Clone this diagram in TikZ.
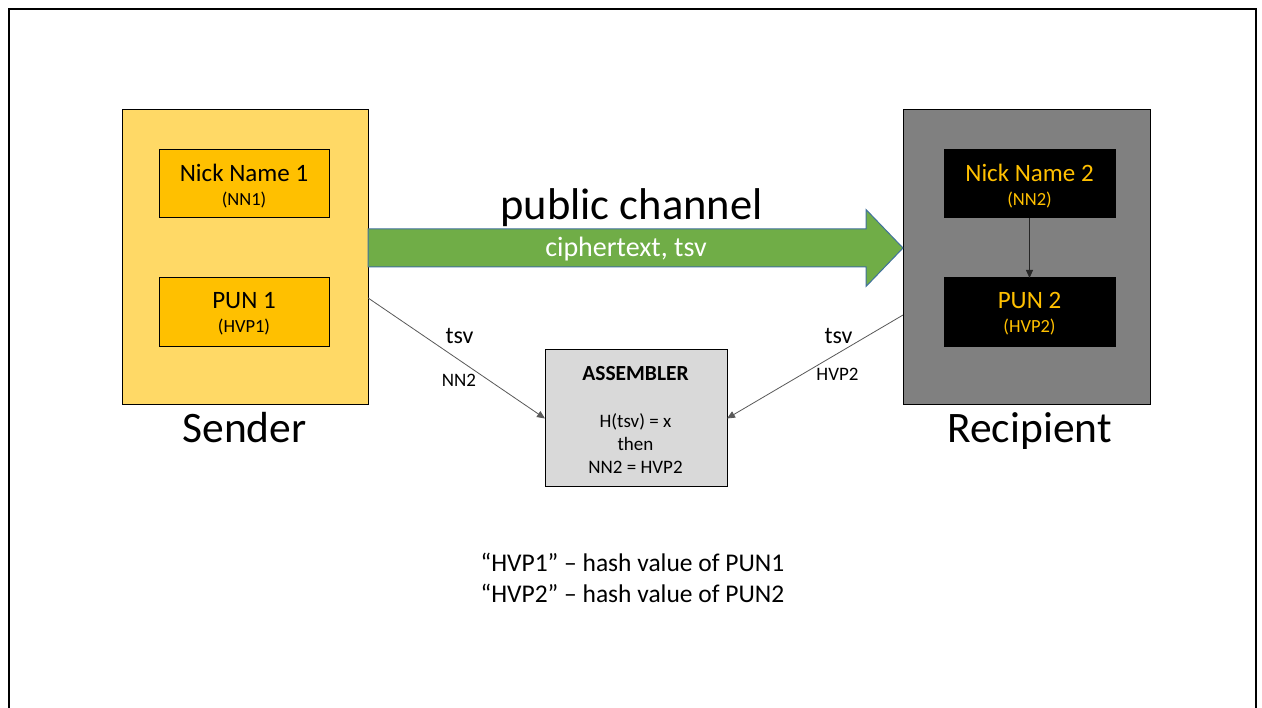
\documentclass[tikz,border=0pt]{standalone}
\usepackage{fontspec}
\setmainfont{Carlito}
\usetikzlibrary{arrows.meta,calc}
\definecolor{senderfill}{HTML}{FFD966}
\definecolor{amber}{HTML}{FFC000}
\definecolor{recipfill}{HTML}{808080}
\definecolor{chanfill}{HTML}{70AD47}
\definecolor{chanedge}{HTML}{41719C}
\definecolor{asmfill}{HTML}{D9D9D9}
\definecolor{wire}{HTML}{595959}
\newcommand\fsz[1]{\fontsize{#1}{#1}\selectfont}
\begin{document}
\begin{tikzpicture}[x=1pt,y=-1pt,
  party/.style={rectangle,draw=black,line width=1pt,inner sep=0pt,outer sep=0pt},
  txt/.style={anchor=base,inner sep=0pt,outer sep=0pt},
  wirearrow/.style={draw=wire,line width=0.8pt,-{Triangle[length=8pt,width=7pt]}},
  chan/.style={fill=chanfill,draw=chanedge,line width=1pt,line join=miter}]
% page and frame
\useasboundingbox (0,0) rectangle (1262,708);
\fill[white] (0,0) rectangle (1262,708);
\draw[line width=2pt,black] (9,708) -- (9,9) -- (1256,9) -- (1256,708);

% sender side
\node[party,fill=senderfill,minimum width=246pt,minimum height=295pt] (sender) at (245,257.5) {};
\node[party,fill=amber,minimum width=170pt,minimum height=68pt] (nn1) at (244,184) {};
\node[party,fill=amber,minimum width=170pt,minimum height=69pt] (pun1) at (244,312.5) {};
\node[txt] at (244,182) {\fsz{25}Nick Name 1};
\node[txt] at (244,206) {\fsz{18.5}(NN1)};
\node[txt] at (244,309) {\fsz{25}PUN 1};
\node[txt] at (244,333) {\fsz{18.5}(HVP1)};
\node[txt] at (244.5,443) {\fsz{43.5}Sender};

% recipient side
\node[party,fill=recipfill,minimum width=247pt,minimum height=295pt] (recip) at (1026.5,257.5) {};
\node[party,fill=black,minimum width=171pt,minimum height=68pt] (nn2) at (1029.5,184) {};
\node[party,fill=black,minimum width=171pt,minimum height=69pt] (pun2) at (1029.5,312.5) {};
\node[txt,text=amber] at (1029.5,182) {\fsz{25}Nick Name 2};
\node[txt,text=amber] at (1029.5,206) {\fsz{18.5}(NN2)};
\node[txt,text=amber] at (1029.5,309) {\fsz{25}PUN 2};
\node[txt,text=amber] at (1029.5,333) {\fsz{18.5}(HVP2)};
\node[txt] at (1029.5,443) {\fsz{43.5}Recipient};
\draw[wirearrow,draw=black!85] (nn2) -- (pun2);

% public channel arrow
\coordinate (tail) at ([yshift=9.5pt]sender.east);
\coordinate (tip) at (recip.west |- tail);
\draw[chan] ([yshift=19pt]tail) -- ([xshift=-37pt,yshift=19pt]tip)
  -- ([xshift=-37pt,yshift=38.5pt]tip) -- (tip)
  -- ([xshift=-37pt,yshift=-38.5pt]tip) -- ([xshift=-37pt,yshift=-19pt]tip)
  -- ([yshift=-19pt]tail) -- cycle;
\node[txt] at (631.5,220) {\fsz{44.5}public channel};
\node[txt,text=white] at (626,257) {\fsz{28}ciphertext, tsv};

% assembler
\node[party,fill=asmfill,minimum width=182pt,minimum height=137pt] (asm) at (636,418.5) {};
\node[txt] at (635.5,381) {\fsz{21.5}\bfseries ASSEMBLER};
\node[txt] at (635.5,428) {\fsz{19}H(tsv) = x};
\node[txt] at (635.5,451) {\fsz{19}then};
\node[txt] at (635.5,474) {\fsz{19}NN2 = HVP2};

% links to the assembler
\draw[wirearrow] ($(sender.north east)!0.637!(sender.south east)$) -- (asm.west);
\draw[wirearrow] ($(recip.north west)!0.695!(recip.south west)$) -- (asm.east);
\node[txt] at (459.5,344) {\fsz{24}tsv};
\node[txt] at (459,387) {\fsz{19}NN2};
\node[txt] at (838.5,344) {\fsz{24}tsv};
\node[txt] at (837.5,381) {\fsz{19}HVP2};

% legend
\node[txt] at (632.5,571) {\fsz{25.5}“HVP1” – hash value of PUN1};
\node[txt] at (632.5,602) {\fsz{25.5}“HVP2” – hash value of PUN2};
\end{tikzpicture}
\end{document}
